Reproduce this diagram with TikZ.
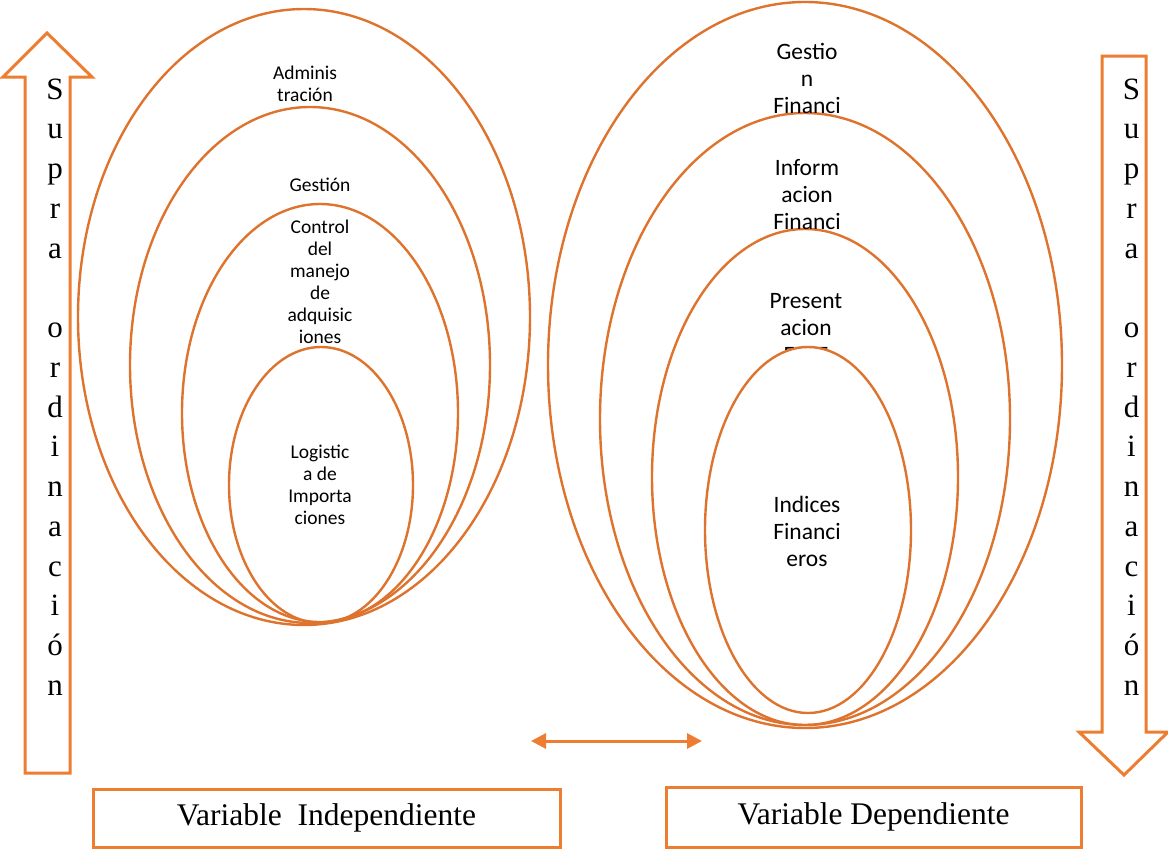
\documentclass[tikz,border=0pt]{standalone}
\usepackage{fontspec}
\setmainfont{Liberation Serif}
\newfontfamily\calib{Carlito}
\usetikzlibrary{shapes.geometric,arrows.meta}
\definecolor{ellcol}{RGB}{222,115,45}
\definecolor{arrcol}{RGB}{237,125,49}
\tikzset{
  ell/.style={draw=ellcol,line width=2.4pt,ellipse,inner sep=0pt},
  ltxt/.style={font=\calib\fontsize{19.5}{22}\selectfont,align=center,inner sep=0pt,text=black},
  rtxt/.style={font=\calib\fontsize{23.5}{27}\selectfont,align=center,inner sep=0pt,text=black},
  letter/.style={font=\fontsize{31}{36}\selectfont,anchor=base,inner sep=0pt},
  varbox/.style={draw=arrcol,line width=3pt,rectangle,inner sep=0pt,font=\fontsize{31.5}{36}\selectfont},
  blockarrow/.style={draw=arrcol,line width=3pt,line join=miter},
  dblarrow/.style={draw=arrcol,line width=3pt,{Triangle[length=15pt,width=15pt]}-{Triangle[length=15pt,width=15pt]}}
}
\begin{document}
\begin{tikzpicture}[x=1pt,y=-1pt]
\useasboundingbox (0,0) rectangle (1168,849);
% block arrows
\draw[blockarrow] (25,773) -- (25,77) -- (3,77) -- (47,33) -- (92,77) -- (70,77) -- (70,773) -- cycle;
\draw[blockarrow] (1102,56) -- (1102,732) -- (1079,732) -- (1124,775) -- (1168,732) -- (1146,732) -- (1146,56) -- cycle;
\foreach \l [count=\i] in {S,u,p,r,a,{},o,r,d,i,n,a,c,i,ó,n}{
  \node[letter] (LL\i) at (55,{99+39.75*(\i-1)}) {\l};
  \node[letter] (RL\i) at (1131.5,{99+39.75*(\i-1)}) {\l};
}
% left ellipses
\node[ell,minimum width=452pt,minimum height=616pt] (la) at (304,317) {};
\node[ell,minimum width=360pt,minimum height=516pt] (lb) at (310,365) {};
\node[ell,minimum width=276pt,minimum height=418pt] (lc) at (320,413) {};
\node[ell,minimum width=184pt,minimum height=276pt] (ld) at (321,485) {};
\node[ltxt] (ta) at (305,84) {Adminis\\tración};
\node[ltxt] (tb) at (320,185) {Gestión};
\node[ltxt] (tc) at (320,281.5) {Control\\del\\manejo\\de\\adquisic\\iones};
\node[ltxt] (td) at (320,484.5) {Logistic\\a de\\Importa\\ciones};
% right ellipses
\node[ell,minimum width=514pt,minimum height=726pt] (ra) at (805,365) {};
\node[ell,minimum width=410pt,minimum height=612pt] (rb) at (805,419) {};
\node[ell,minimum width=306pt,minimum height=496pt] (rc) at (805,477) {};
\node[rtxt] (sa) at (807,78) {Gestio\\n\\Financi};
\node[rtxt] (sb) at (807,194.5) {Inform\\acion\\Financi};
\node[rtxt] (sc) at (806,328) {Present\\acion\\EEFF};
\node[ell,fill=white,minimum width=206pt,minimum height=366pt] (rd) at (808,530) {};
\node[rtxt] (sd) at (807,531) {Indices\\Financi\\eros};
% double arrow
\coordinate (da1) at (531,741);
\coordinate (da2) at (702,741);
\draw[dblarrow] (da1) -- (da2);
% bottom boxes
\node[varbox,minimum width=467pt,minimum height=58pt] (vi) at (326.5,818) {Variable\ \ Independiente};
\node[varbox,minimum width=415pt,minimum height=60pt] (vd) at (873.5,817) {Variable Dependiente};
\end{tikzpicture}
\end{document}
